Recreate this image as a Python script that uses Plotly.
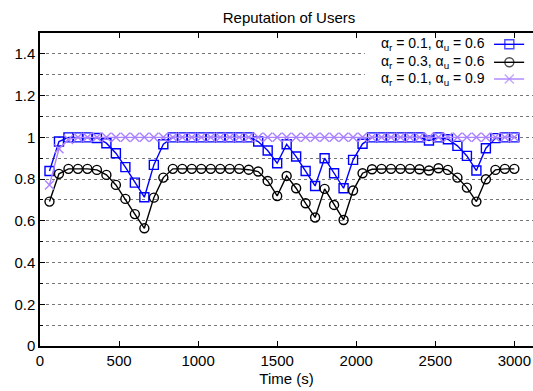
import plotly.graph_objects as go

# ---- data ----
times = [60, 120, 180, 240, 300, 360, 420, 480, 540, 600,
         660, 720, 780, 840, 900, 960, 1020, 1080, 1140, 1200,
         1260, 1320, 1380, 1440, 1500, 1560, 1620, 1680, 1740, 1800,
         1860, 1920, 1980, 2040, 2100, 2160, 2220, 2280, 2340, 2400,
         2460, 2520, 2580, 2640, 2700, 2760, 2820, 2880, 2940, 3000]

rep_r01_u06 = [0.839, 0.980, 1.000, 1.000, 1.000, 0.997, 0.972, 0.924, 0.857, 0.783,
               0.713, 0.868, 0.967, 1.000, 1.000, 1.000, 1.000, 1.000, 1.000, 1.000,
               1.000, 1.000, 0.980, 0.937, 0.876, 0.967, 0.908, 0.839, 0.767, 0.900,
               0.828, 0.756, 0.892, 0.969, 1.000, 1.000, 1.000, 1.000, 1.000, 1.000,
               0.985, 1.000, 0.991, 0.959, 0.911, 0.841, 0.948, 0.996, 1.000, 1.000]

rep_r03_u06 = [0.692, 0.825, 0.849, 0.849, 0.849, 0.844, 0.820, 0.772, 0.705, 0.632,
               0.564, 0.711, 0.807, 0.849, 0.849, 0.849, 0.849, 0.849, 0.849, 0.849,
               0.849, 0.845, 0.836, 0.791, 0.719, 0.815, 0.756, 0.684, 0.616, 0.753,
               0.676, 0.604, 0.745, 0.828, 0.847, 0.849, 0.849, 0.849, 0.849, 0.847,
               0.841, 0.852, 0.844, 0.807, 0.759, 0.692, 0.799, 0.844, 0.849, 0.849]

rep_r01_u09 = [0.772, 0.945, 0.990, 1.000, 1.000, 1.000, 1.000, 1.000, 1.000, 1.000,
               1.000, 1.000, 1.000, 1.000, 1.000, 1.000, 1.000, 1.000, 1.000, 1.000,
               1.000, 1.000, 1.000, 1.000, 1.000, 1.000, 1.000, 1.000, 1.000, 1.000,
               1.000, 1.000, 1.000, 1.000, 1.000, 1.000, 1.000, 1.000, 1.000, 1.000,
               1.000, 1.000, 1.000, 1.000, 1.000, 1.000, 1.000, 1.000, 1.000, 1.000]

series_labels = ["α<sub>r</sub> = 0.1, α<sub>u</sub> = 0.6",
                 "α<sub>r</sub> = 0.3, α<sub>u</sub> = 0.6",
                 "α<sub>r</sub> = 0.1, α<sub>u</sub> = 0.9"]
series_values = [rep_r01_u06, rep_r03_u06, rep_r01_u09]
series_colors = ["#0000ff", "#000000", "#ab82ff"]
series_symbols = ["square-open", "circle-open", "x-thin-open"]

y_ticks = [0, 0.2, 0.4, 0.6, 0.8, 1.0, 1.2, 1.4]
y_ticktext = ["0", "0.2", "0.4", "0.6", "0.8", "1", "1.2", "1.4"]
x_ticks = [0, 500, 1000, 1500, 2000, 2500, 3000]

FONT = "Liberation Sans, Arial, sans-serif"
FS = 15

fig = go.Figure()
for lab, vals, col, sym in zip(series_labels, series_values, series_colors, series_symbols):
    fig.add_trace(go.Scatter(
        x=times, y=vals, mode="lines+markers", name=lab,
        line=dict(color=col, width=1.4),
        marker=dict(symbol=sym, size=9, color=col, line=dict(color=col, width=1.4)),
        showlegend=False,
    ))

# opaque key background on the overlay (key) axes: hides grid lines behind the key
fig.add_trace(go.Scatter(
    x=[0.659, 1.0, 1.0, 0.659, 0.659], y=[0.827, 0.827, 0.996, 0.996, 0.827],
    xaxis="x2", yaxis="y2", mode="lines", fill="toself", fillcolor="white",
    line=dict(width=0, color="white"), showlegend=False, hoverinfo="skip",
))

# custom gnuplot-style key (text left, sample right) on the overlay axes
key_rows = [0.9639, 0.9064, 0.8530]
key_x = [0.921, 0.952, 0.982]
for lab, col, sym, ry in zip(series_labels, series_colors, series_symbols, key_rows):
    fig.add_trace(go.Scatter(
        x=key_x, y=[ry, ry, ry], xaxis="x2", yaxis="y2",
        mode="lines+markers", showlegend=False, hoverinfo="skip",
        line=dict(color=col, width=1.4),
        marker=dict(symbol=sym, size=[0, 9, 0], color=col, line=dict(color=col, width=1.4)),
    ))
    fig.add_annotation(text=lab, xref="paper", yref="paper", x=0.907, y=ry,
                       xanchor="right", yanchor="middle", showarrow=False,
                       font=dict(family=FONT, size=14, color="#000"))

fig.update_layout(
    width=533, height=391,
    margin=dict(l=40, r=0, t=33, b=45),
    paper_bgcolor="white", plot_bgcolor="white",
    font=dict(family=FONT, size=FS, color="#000"),
    title=dict(text="Reputation of Users", x=(289 - 40) / 493, xref="paper",
               xanchor="center", y=1 - 17.5 / 391, yanchor="middle",
               font=dict(family=FONT, size=FS, color="#000")),
    xaxis=dict(range=[0, 3118], tickvals=x_ticks, showgrid=False, zeroline=False,
               showline=True, linecolor="#000", linewidth=1.5, mirror="ticks",
               ticks="inside", ticklen=5, tickcolor="#000", tickwidth=1,
               title=dict(text="Time (s)", standoff=6, font=dict(size=FS)),
               tickfont=dict(size=FS)),
    yaxis=dict(range=[0, 1.5], tickvals=y_ticks, ticktext=y_ticktext, zeroline=False,
               showline=True, linecolor="#000", linewidth=1.5, mirror=False,
               ticks="inside", ticklen=5, tickcolor="#000", tickwidth=1,
               showgrid=True, gridcolor="#777", gridwidth=1, griddash="dot",
               minor=dict(dtick=0.1, showgrid=True, gridcolor="#777", gridwidth=1,
                          griddash="dot", ticks="inside", ticklen=3, tickcolor="#000"),
               tickfont=dict(size=FS)),
    xaxis2=dict(overlaying="x", range=[0, 1], visible=False, fixedrange=True),
    yaxis2=dict(overlaying="y", range=[0, 1], visible=False, fixedrange=True),
)

fig.write_html("out.html")
